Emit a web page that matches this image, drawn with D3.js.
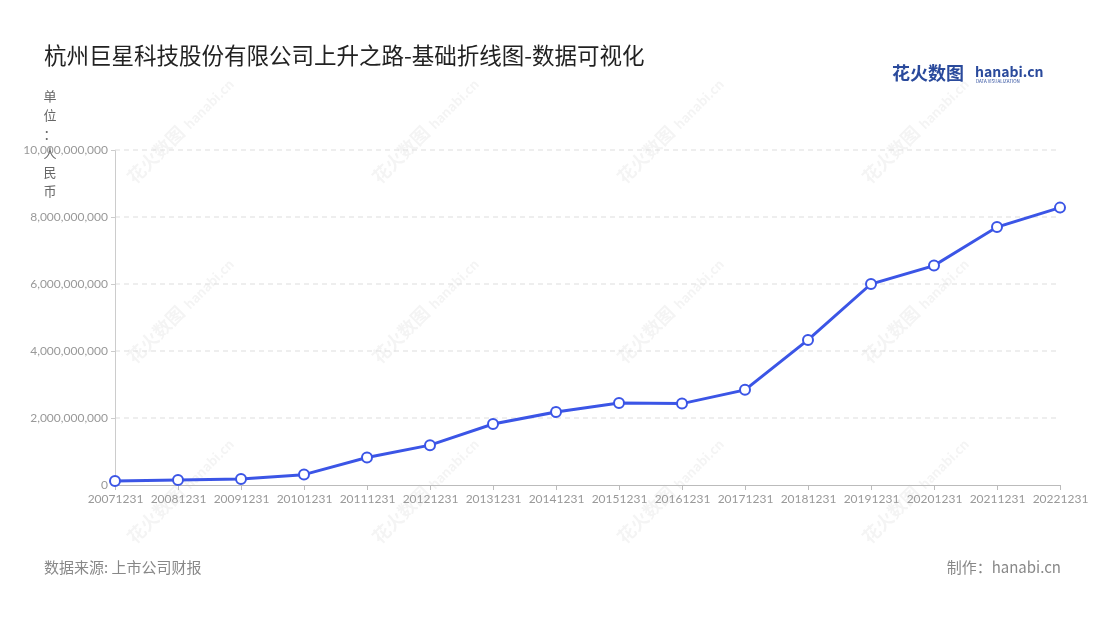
<!DOCTYPE html>
<html><head><meta charset="utf-8">
<script src="https://cdn.jsdelivr.net/npm/d3@7"></script>
<style>body{margin:0;background:#fff;font-family:"Noto Sans CJK SC","Noto Sans",sans-serif}</style>
</head><body><svg id="c" width="1100" height="620"></svg>
<script>
const categories=["20071231","20081231","20091231","20101231","20111231","20121231","20131231","20141231","20151231","20161231","20171231","20181231","20191231","20201231","20211231","20221231"];
const values=[120000000,150000000,180000000,310000000,820000000,1190000000,1820000000,2180000000,2450000000,2430000000,2840000000,4330000000,6000000000,6550000000,7700000000,8280000000];
const yTicks=[0,2000000000,4000000000,6000000000,8000000000,10000000000];
const title="杭州巨星科技股份有限公司上升之路-基础折线图-数据可视化";
const unit="单位：人民币";
const source="数据来源: 上市公司财报";
const maker="制作：hanabi.cn";

const svg=d3.select("#c");
const L=115,R=1060,T=150,B=485;
const x=d3.scalePoint().domain(categories).range([L,R]);
const y=d3.scaleLinear().domain([0,10000000000]).range([B,T]);

// watermarks
const wm=svg.append("g").attr("fill","#000").attr("opacity",0.045).attr("font-weight","bold");
[[135,150],[380,150],[625,150],[870,150],[135,330],[380,330],[625,330],[870,330],[135,510],[380,510],[625,510],[870,510]].forEach(([a,b])=>{
  wm.append("text").attr("transform",`translate(${a},${b+35}) rotate(-45)`).attr("font-size",18).text("花火数图");
  wm.append("text").attr("transform",`translate(${a+55},${b-20}) rotate(-45)`).attr("font-size",13).text("hanabi.cn");
});

svg.append("text").attr("x",44).attr("y",64).attr("font-size",22.5).attr("fill","#222").text(title);
svg.append("text").attr("x",892).attr("y",80).attr("font-size",18).attr("font-weight","bold").attr("fill","#2a4a9c").text("花火数图");
svg.append("text").attr("x",975).attr("y",77).attr("font-size",14).attr("font-weight","bold").attr("fill","#2a4a9c").text("hanabi.cn");
svg.append("text").attr("x",976).attr("y",83).attr("font-size",4.5).attr("fill","#2a4a9c").text("DATA VISUALIZATION");

// unit vertical
unit.split("").forEach((ch,i)=>svg.append("text").attr("x",50).attr("y",101+i*19).attr("text-anchor","middle").attr("font-size",13).attr("fill","#666").text(ch));

// grid
svg.append("g").selectAll("line").data(yTicks.slice(1)).join("line")
 .attr("x1",L).attr("x2",R).attr("y1",d=>y(d)).attr("y2",d=>y(d))
 .attr("stroke","#ddd").attr("stroke-dasharray","5,4");

const ya=svg.append("g").attr("transform",`translate(${L},0)`).call(d3.axisLeft(y).tickValues(yTicks).tickFormat(d3.format(",")).tickSize(4));
ya.selectAll("text").attr("fill","#999").attr("font-size",12).attr("font-family","Lato,sans-serif");
ya.selectAll("line,path").attr("stroke","#ccc");

const xa=svg.append("g").attr("transform",`translate(0,${B})`).call(d3.axisBottom(x).tickSize(5).tickPadding(4));
xa.selectAll("text").attr("fill","#999").attr("font-size",12).attr("font-family","Lato,sans-serif");
xa.selectAll("line,path").attr("stroke","#bbb");

const data=categories.map((c,i)=>({c,v:values[i]}));
svg.append("path").datum(data).attr("fill","none").attr("stroke","#3b55e6").attr("stroke-width",3)
 .attr("d",d3.line().x(d=>x(d.c)).y(d=>y(d.v)));
svg.append("g").selectAll("circle").data(data).join("circle")
 .attr("cx",d=>x(d.c)).attr("cy",d=>y(d.v)).attr("r",5).attr("fill","#fff").attr("stroke","#3b55e6").attr("stroke-width",2);

svg.append("text").attr("x",44).attr("y",573).attr("font-size",15).attr("fill","#888").text(source);
svg.append("text").attr("x",1061).attr("y",573).attr("text-anchor","end").attr("font-size",15).attr("fill","#888").text(maker);
</script></body></html>
